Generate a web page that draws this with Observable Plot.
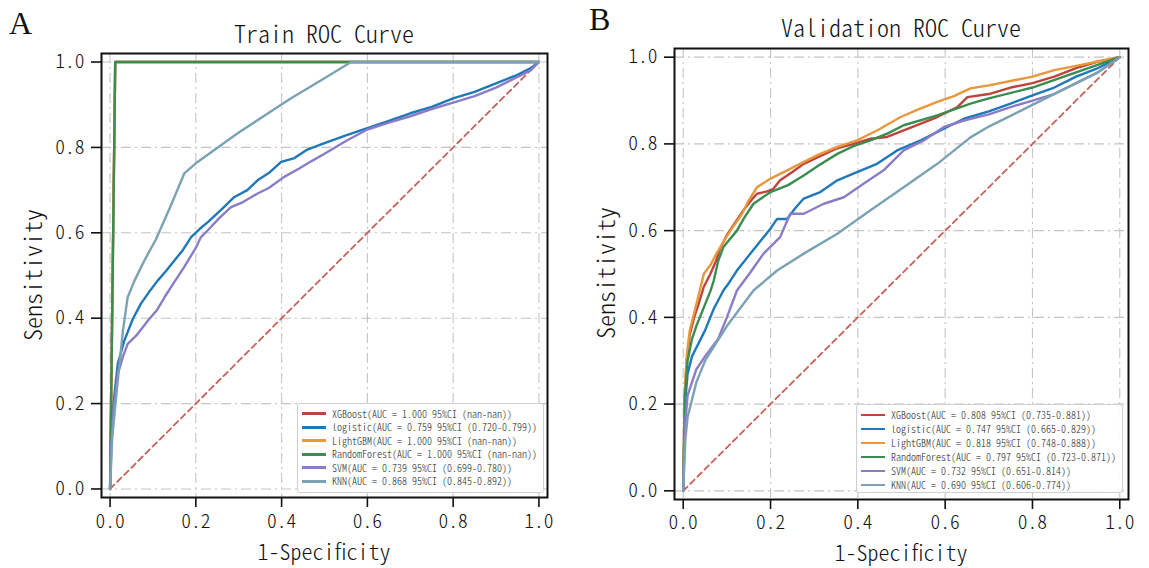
<!DOCTYPE html>
<html><head><meta charset="utf-8">
<script src="https://cdn.jsdelivr.net/npm/d3@7"></script>
<script src="https://cdn.jsdelivr.net/npm/@observablehq/plot@0.6"></script>
<style>
body{margin:0;background:#fff;}
#wrap{position:relative;width:1149px;height:568px;overflow:hidden;font-family:"Noto Sans CJK SC",sans-serif;font-weight:300;font-feature-settings:"hwid" 1;color:#111;}
.panel{position:absolute;top:0;}
.panel text{font-feature-settings:"hwid" 1;font-weight:300;}
.letter{position:absolute;font-family:"Liberation Serif",serif;font-weight:400;font-size:32px;line-height:1;font-feature-settings:normal;}
.title,.xlab{position:absolute;font-size:24px;line-height:1;transform:translateX(-50%);white-space:nowrap;}
.xlab{font-size:22px;}
.ylab{position:absolute;font-size:24px;line-height:1;transform:translate(-50%,-50%) rotate(-90deg);white-space:nowrap;}
.legend{position:absolute;background:rgba(255,255,255,0.9);border:1px solid #d0d0d0;border-radius:3px;box-sizing:border-box;padding:3px 0 0 4px;}
.row{display:flex;align-items:center;font-size:10px;white-space:pre;color:#222;line-height:1;}
.sw{display:inline-block;width:24px;height:2.6px;margin-right:6px;flex:none;}
</style></head>
<body><div id="wrap"></div>
<script>
// ---- data ----
const tickValues = [0, 0.2, 0.4, 0.6, 0.8, 1.0];
const chance = [[0, 0], [1, 1]];
const modelNames = ["XGBoost", "logistic", "LightGBM", "RandomForest", "SVM", "KNN"];
const modelColors = ["#c0443c", "#1f78b8", "#e8973c", "#3a8c50", "#8a7cc6", "#7ba2b4"];

const trainLabels = [
  "XGBoost(AUC = 1.000 95%CI (nan-nan))",
  "logistic(AUC = 0.759 95%CI (0.720-0.799))",
  "LightGBM(AUC = 1.000 95%CI (nan-nan))",
  "RandomForest(AUC = 1.000 95%CI (nan-nan))",
  "SVM(AUC = 0.739 95%CI (0.699-0.780))",
  "KNN(AUC = 0.868 95%CI (0.845-0.892))"
];
const validLabels = [
  "XGBoost(AUC = 0.808 95%CI (0.735-0.881))",
  "logistic(AUC = 0.747 95%CI (0.665-0.829))",
  "LightGBM(AUC = 0.818 95%CI (0.748-0.888))",
  "RandomForest(AUC = 0.797 95%CI (0.723-0.871))",
  "SVM(AUC = 0.732 95%CI (0.651-0.814))",
  "KNN(AUC = 0.690 95%CI (0.606-0.774))"
];

// Train ROC points [fpr, tpr]
const trainXGBoost = [[0,0],[0.012,1],[1,1]];
const trainLightGBM = [[0,0],[0.012,1],[1,1]];
const trainRandomForest = [[0,0],[0.012,1],[1,1]];
const trainLogistic = [[0,0],[0.003,0.12],[0.008,0.2],[0.018,0.293],[0.033,0.347],[0.053,0.398],[0.072,0.434],[0.09,0.46],[0.111,0.488],[0.13,0.51],[0.15,0.535],[0.17,0.56],[0.189,0.59],[0.21,0.61],[0.228,0.625],[0.26,0.655],[0.29,0.684],[0.32,0.7],[0.344,0.723],[0.37,0.74],[0.399,0.766],[0.43,0.775],[0.46,0.795],[0.5,0.81],[0.55,0.828],[0.6,0.845],[0.65,0.862],[0.7,0.88],[0.75,0.895],[0.8,0.915],[0.85,0.93],[0.9,0.95],[0.95,0.97],[0.98,0.985],[1,1]];
const trainSVM = [[0,0],[0.003,0.1],[0.008,0.18],[0.018,0.269],[0.03,0.31],[0.041,0.34],[0.061,0.359],[0.088,0.394],[0.11,0.42],[0.127,0.449],[0.15,0.485],[0.173,0.52],[0.2,0.565],[0.212,0.59],[0.228,0.606],[0.255,0.635],[0.282,0.66],[0.31,0.672],[0.344,0.692],[0.37,0.705],[0.406,0.731],[0.44,0.75],[0.47,0.768],[0.5,0.785],[0.55,0.815],[0.6,0.842],[0.65,0.858],[0.7,0.873],[0.75,0.89],[0.8,0.905],[0.85,0.92],[0.9,0.94],[0.95,0.965],[0.98,0.98],[1,1]];
const trainKNN = [[0,0],[0.005,0.12],[0.014,0.214],[0.022,0.293],[0.03,0.371],[0.041,0.449],[0.057,0.488],[0.08,0.535],[0.107,0.585],[0.14,0.66],[0.173,0.739],[0.204,0.766],[0.3,0.835],[0.422,0.915],[0.5,0.962],[0.562,1],[1,1]];

// Validation ROC points [fpr, tpr]
const validXGBoost = [[0,0],[0.003,0.2],[0.008,0.3],[0.015,0.36],[0.025,0.4],[0.035,0.43],[0.047,0.47],[0.062,0.5],[0.075,0.53],[0.085,0.56],[0.1,0.59],[0.12,0.62],[0.14,0.65],[0.16,0.675],[0.169,0.685],[0.19,0.69],[0.205,0.695],[0.222,0.716],[0.25,0.735],[0.276,0.754],[0.31,0.77],[0.353,0.79],[0.39,0.8],[0.429,0.812],[0.467,0.816],[0.505,0.831],[0.54,0.845],[0.582,0.862],[0.628,0.885],[0.651,0.908],[0.7,0.915],[0.75,0.93],[0.8,0.94],[0.85,0.955],[0.9,0.975],[0.95,0.99],[1,1]];
const validLogistic = [[0,0],[0.004,0.2],[0.01,0.27],[0.02,0.31],[0.03,0.33],[0.05,0.37],[0.07,0.42],[0.092,0.462],[0.105,0.48],[0.123,0.508],[0.154,0.547],[0.184,0.585],[0.2,0.605],[0.215,0.627],[0.238,0.627],[0.255,0.65],[0.276,0.674],[0.314,0.689],[0.353,0.716],[0.398,0.735],[0.444,0.754],[0.49,0.785],[0.544,0.808],[0.597,0.835],[0.643,0.858],[0.7,0.875],[0.75,0.893],[0.8,0.912],[0.85,0.93],[0.9,0.955],[0.95,0.975],[1,1]];
const validLightGBM = [[0,0],[0.003,0.22],[0.008,0.31],[0.015,0.37],[0.025,0.41],[0.035,0.45],[0.047,0.5],[0.062,0.52],[0.075,0.545],[0.085,0.562],[0.108,0.6],[0.135,0.639],[0.15,0.67],[0.169,0.7],[0.2,0.72],[0.238,0.739],[0.27,0.755],[0.307,0.774],[0.353,0.793],[0.398,0.808],[0.444,0.831],[0.498,0.862],[0.54,0.88],[0.582,0.897],[0.62,0.91],[0.658,0.928],[0.7,0.935],[0.75,0.945],[0.8,0.955],[0.85,0.97],[0.9,0.98],[0.95,0.99],[1,1]];
const validRandomForest = [[0,0],[0.004,0.22],[0.01,0.3],[0.02,0.35],[0.03,0.38],[0.05,0.43],[0.062,0.46],[0.07,0.485],[0.08,0.53],[0.092,0.562],[0.123,0.6],[0.14,0.63],[0.161,0.662],[0.2,0.689],[0.24,0.705],[0.276,0.727],[0.31,0.75],[0.353,0.777],[0.39,0.795],[0.429,0.808],[0.47,0.825],[0.505,0.843],[0.582,0.866],[0.658,0.893],[0.7,0.905],[0.8,0.93],[0.9,0.965],[1,1]];
const validSVM = [[0,0],[0.004,0.15],[0.01,0.22],[0.03,0.28],[0.05,0.31],[0.08,0.35],[0.1,0.4],[0.123,0.462],[0.154,0.504],[0.184,0.547],[0.222,0.585],[0.245,0.639],[0.276,0.639],[0.322,0.662],[0.368,0.677],[0.413,0.708],[0.459,0.739],[0.505,0.785],[0.551,0.808],[0.597,0.839],[0.643,0.854],[0.7,0.868],[0.75,0.885],[0.8,0.9],[0.85,0.915],[0.9,0.94],[0.95,0.965],[1,1]];
const validKNN = [[0,0],[0.005,0.12],[0.01,0.17],[0.03,0.25],[0.05,0.3],[0.1,0.38],[0.161,0.462],[0.215,0.508],[0.276,0.547],[0.353,0.593],[0.429,0.647],[0.505,0.7],[0.582,0.754],[0.658,0.815],[0.7,0.84],[0.8,0.89],[0.9,0.94],[0.95,0.965],[1,1]];

const trainCurves = [trainXGBoost, trainLogistic, trainLightGBM, trainRandomForest, trainSVM, trainKNN];
const validCurves = [validXGBoost, validLogistic, validLightGBM, validRandomForest, validSVM, validKNN];

// ---- drawing ----
const wrap = document.getElementById("wrap");
function makePanel(curves, m, w, xPad) {
  const gridStyle = {stroke: "#c4c4c4", strokeOpacity: 1, strokeWidth: 1.1, strokeDasharray: "10,4,2,4"};
  return Plot.plot({
    width: w, height: 568,
    marginLeft: m[0], marginRight: m[1], marginTop: m[2], marginBottom: m[3],
    x: {domain: [-0.02, 1.02]},
    y: {domain: [-0.02, 1.02]},
    style: {fontFamily: "'Noto Sans CJK SC', sans-serif", color: "#111", background: "transparent", overflow: "visible"},
    marks: [
      Plot.gridX(tickValues, gridStyle),
      Plot.gridY(tickValues, gridStyle),
      Plot.line(chance, {x: d => d[0], y: d => d[1], stroke: "#c8605a", strokeWidth: 1.8, strokeDasharray: "6,4"}),
      ...curves.map((c, i) => Plot.line(c, {x: d => d[0], y: d => d[1], stroke: modelColors[i], strokeWidth: 2.4})),
      Plot.frame({stroke: "#111", strokeWidth: 2}),
      Plot.axisX(tickValues, {tickSize: 10, tickPadding: xPad, strokeWidth: 1.6, fontSize: 19.5, tickFormat: d3.format(".1f"), label: null}),
      Plot.axisY(tickValues, {tickSize: 10, tickPadding: 7, strokeWidth: 1.6, fontSize: 19.5, tickFormat: d3.format(".1f"), label: null})
    ]
  });
}
function addDiv(cls, text, styles) {
  const d = document.createElement("div");
  d.className = cls; d.textContent = text;
  Object.assign(d.style, styles);
  wrap.appendChild(d);
  return d;
}
function addLegend(labels, styles) {
  const lg = document.createElement("div");
  lg.className = "legend";
  Object.assign(lg.style, styles);
  labels.forEach((t, i) => {
    const r = document.createElement("div");
    r.className = "row";
    r.style.height = styles.rowH;
    const sw = document.createElement("span");
    sw.className = "sw"; sw.style.background = modelColors[i];
    const tx = document.createElement("span"); tx.textContent = t;
    r.appendChild(sw); r.appendChild(tx); lg.appendChild(r);
  });
  wrap.appendChild(lg);
}

const pA = makePanel(trainCurves, [101, 27, 53, 71], 574, 7);
pA.classList.add("panel"); pA.style.left = "0px";
wrap.appendChild(pA);
const pB = makePanel(validCurves, [100, 21, 48, 69], 575, 6);
pB.classList.add("panel"); pB.style.left = "574px";
wrap.appendChild(pB);

addDiv("letter", "A", {left: "9px", top: "7px"});
addDiv("letter", "B", {left: "589px", top: "3px"});
addDiv("title", "Train ROC Curve", {left: "324px", top: "21px"});
addDiv("title", "Validation ROC Curve", {left: "901px", top: "15px"});
addDiv("xlab", "1-Specificity", {left: "324px", top: "539px"});
addDiv("xlab", "1-Specificity", {left: "901px", top: "540px"});
addDiv("ylab", "Sensitivity", {left: "32px", top: "275px"});
addDiv("ylab", "Sensitivity", {left: "605px", top: "273px"});

addLegend(trainLabels, {left: "297px", top: "403px", width: "247px", height: "90px", rowH: "13.5px"});
addLegend(validLabels, {left: "856px", top: "404px", width: "267px", height: "89px", rowH: "14px"});
</script></body></html>
